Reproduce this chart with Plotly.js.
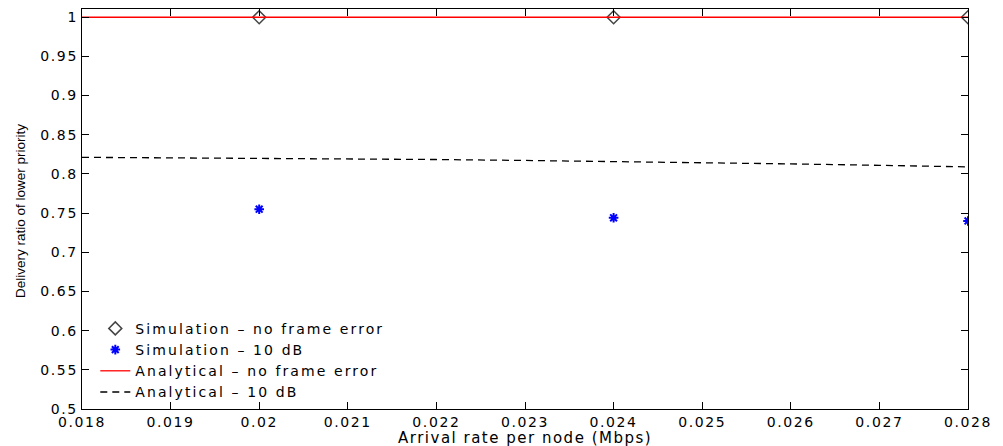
<!DOCTYPE html>
<html><head><meta charset="utf-8">
<script src="https://cdn.plot.ly/plotly-3.0.1.min.js"></script>
<style>
html,body{margin:0;padding:0;background:#fff}
#c{width:1003px;height:446px}
#c .xtick text, #c .ytick text{letter-spacing:1.6px}
#c .legendtext{letter-spacing:2.1px}
#c .legend .scrollbox, #c .legend{clip-path:none !important}
</style>
</head><body><div id="c"></div>
<script>
const simX = [0.020, 0.024, 0.028];
const simNoErr = [1.0, 1.0, 1.0];
const sim10dB = [0.755, 0.744, 0.740];
const anaX = [0.018, 0.019, 0.020, 0.021, 0.022, 0.023, 0.024, 0.025, 0.026, 0.027, 0.028];
const anaNoErr = [1, 1, 1, 1, 1, 1, 1, 1, 1, 1, 1];
const ana10dB = [0.8212, 0.8207, 0.8201, 0.8193, 0.8184, 0.8172, 0.8159, 0.8144, 0.8128, 0.8110, 0.8090];
const xTicks = [0.018, 0.019, 0.02, 0.021, 0.022, 0.023, 0.024, 0.025, 0.026, 0.027, 0.028];
const xTickText = ['0.018','0.019','0.02','0.021','0.022','0.023','0.024','0.025','0.026','0.027','0.028'];
const yTicks = [0.5,0.55,0.6,0.65,0.7,0.75,0.8,0.85,0.9,0.95,1];
const yTickText = ['0.5','0.55','0.6','0.65','0.7','0.75','0.8','0.85','0.9','0.95','1'];
const xTitle = 'Arrival rate per node (Mbps)';
const yTitle = 'Delivery ratio of lower priority';

const tickFont = {family: 'DejaVu Sans, Liberation Sans, Arial', size: 14, color: '#000'};
const legFont = {family: 'DejaVu Sans, Liberation Sans, Arial', size: 14, color: '#000'};
const traces = [
  {x: simX, y: simNoErr, mode: 'markers', name: 'Simulation – no frame error',
   marker: {symbol: 'diamond-open', size: 10, color: '#444', line: {width: 1.5, color: '#444'}}},
  {x: simX, y: sim10dB, mode: 'markers', name: 'Simulation – 10 dB',
   marker: {symbol: 'asterisk-open', size: 8, color: '#0000ff', line: {width: 2, color: '#0000ff'}}},
  {x: anaX, y: anaNoErr, mode: 'lines', name: 'Analytical – no frame error',
   line: {color: '#ff0000', width: 1.3}},
  {x: anaX, y: ana10dB, mode: 'lines', name: 'Analytical – 10 dB',
   line: {color: '#000', width: 1.3, dash: '7px,5px'}}
];
const layout = {
  width: 1003, height: 446,
  margin: {l: 82, r: 35, t: 9, b: 37},
  paper_bgcolor: '#fff', plot_bgcolor: '#fff',
  showlegend: true,
  legend: {x: 0.015, y: 0.003, xanchor: 'left', yanchor: 'bottom', bgcolor: 'rgba(0,0,0,0)',
           font: legFont, tracegroupgap: 0, itemwidth: 30},
  xaxis: {range: [0.018, 0.028], tickvals: xTicks, ticktext: xTickText, ticks: 'inside', ticklen: 7,
          tickcolor: '#000', showline: true, linecolor: '#000', linewidth: 1.3, mirror: 'ticks',
          showgrid: false, zeroline: false, tickfont: tickFont},
  yaxis: {range: [0.5, 1.0105], tickvals: yTicks, ticktext: yTickText, ticks: 'inside', ticklen: 7,
          tickcolor: '#000', showline: true, linecolor: '#000', linewidth: 1.3, mirror: 'ticks',
          showgrid: false, zeroline: false, tickfont: tickFont},
  annotations: [
    {text: xTitle, xref: 'paper', yref: 'paper', x: 0.5, y: -0.0725, xanchor: 'center', yanchor: 'middle',
     showarrow: false, font: {family: 'DejaVu Sans, Liberation Sans', size: 15, color: '#000'}},
    {text: yTitle, xref: 'paper', yref: 'paper', x: -0.07, y: 0.495, xanchor: 'center', yanchor: 'middle',
     textangle: -90, showarrow: false, font: {family: 'Liberation Sans Narrow, Liberation Sans', size: 13.5, color: '#000'}}
  ]
};
Plotly.newPlot('c', traces, layout, {displayModeBar: false, staticPlot: true}).then(() => {
  const a = document.querySelectorAll('#c .annotation-text');
  if (a[0]) a[0].style.letterSpacing = '1.5px';
});
</script></body></html>
